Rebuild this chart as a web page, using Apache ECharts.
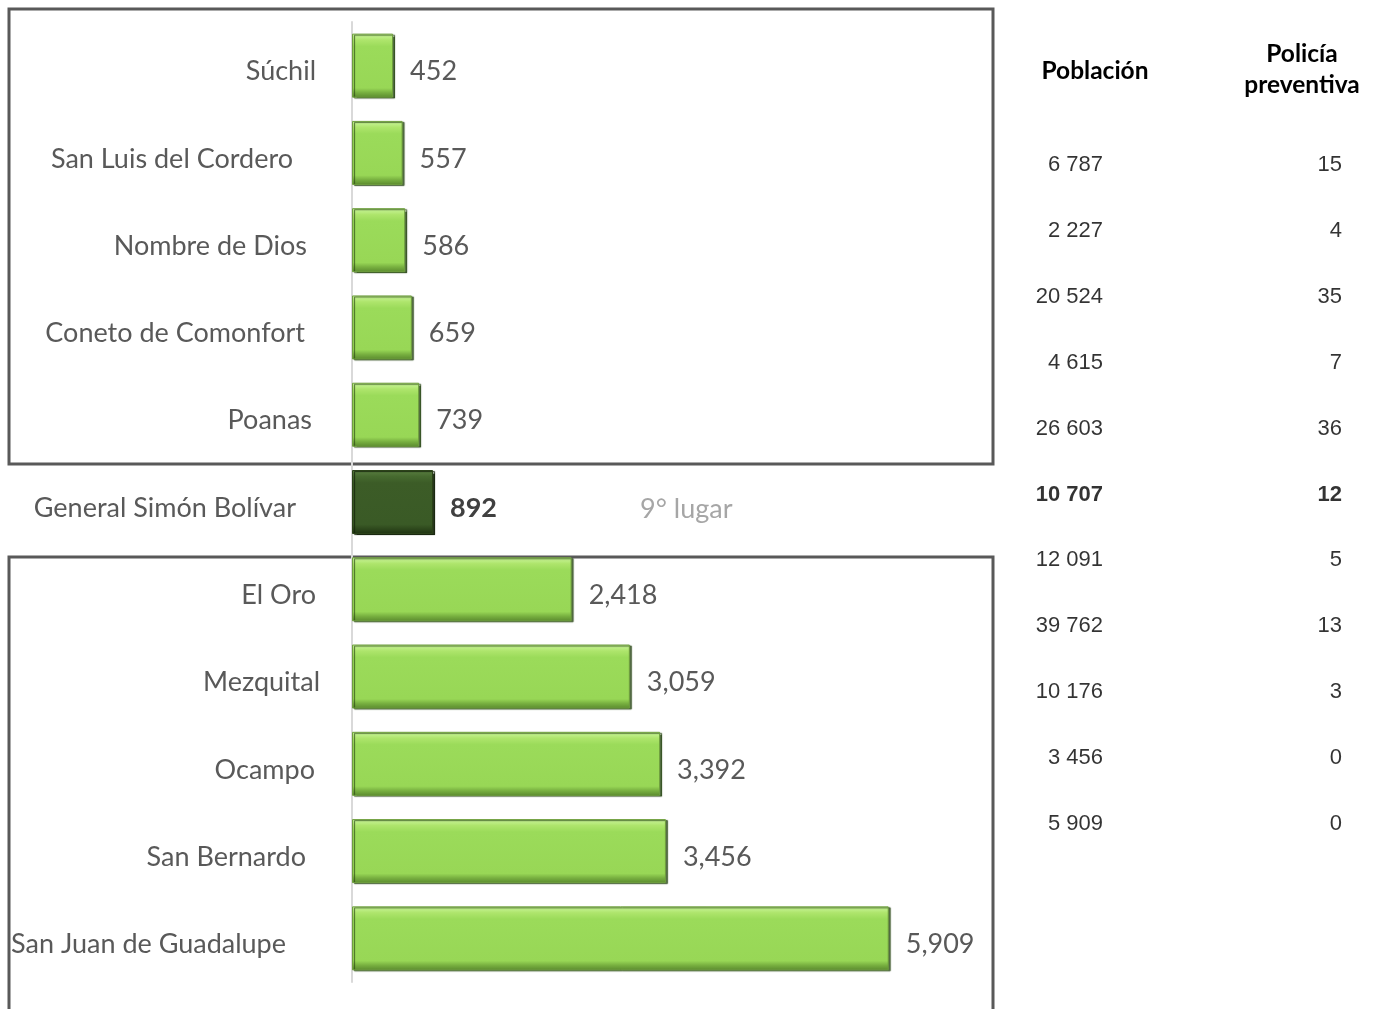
<!DOCTYPE html>
<html>
<head>
<meta charset="utf-8">
<script src="https://cdn.jsdelivr.net/npm/echarts@6/dist/echarts.min.js"></script>
<style>
  html, body { margin: 0; padding: 0; background: #fff; }
  #chart { width: 1377px; height: 1009px; }
</style>
</head>
<body>
<div id="chart"></div>
<script>
  const municipios = ["Súchil", "San Luis del Cordero", "Nombre de Dios", "Coneto de Comonfort", "Poanas",
    "General Simón Bolívar", "El Oro", "Mezquital", "Ocampo", "San Bernardo", "San Juan de Guadalupe"]
  const habitantesPorPolicia = [452, 557, 586, 659, 739, 892, 2418, 3059, 3392, 3456, 5909]
  const poblacion = [6787, 2227, 20524, 4615, 26603, 10707, 12091, 39762, 10176, 3456, 5909]
  const policia = [15, 4, 35, 7, 36, 12, 5, 13, 3, 0, 0]
  const destacado = "General Simón Bolívar"

  // extra right padding so the names sit roughly where the original put them
  const labelShift = [4, 27, 13, 15, 8, 24, 4, 0, 5, 14, 34]

  const font = "Lato, 'Noto Sans', sans-serif"
  const fmtComma = v => String(v).replace(/\B(?=(\d{3})+(?!\d))/g, ",")
  const fmtSpace = v => String(v).replace(/\B(?=(\d{3})+(?!\d))/g, " ")

  const greenBar = {
    color: new echarts.graphic.LinearGradient(0, 0, 0, 1, [
      { offset: 0, color: "#cdf7a0" },
      { offset: 0.1, color: "#aee56c" },
      { offset: 0.2, color: "#9bdb5a" },
      { offset: 0.85, color: "#98d756" },
      { offset: 0.92, color: "#78b040" },
      { offset: 1, color: "#5a8a2e" },
    ]),
    borderColor: "#6f9f3e",
    borderWidth: 1,
    shadowColor: "rgba(40,70,20,0.8)",
    shadowOffsetX: 2,
    shadowOffsetY: 1,
    shadowBlur: 1,
  }
  const darkBar = {
    color: new echarts.graphic.LinearGradient(0, 0, 0, 1, [
      { offset: 0, color: "#5b7f43" },
      { offset: 0.1, color: "#466a2f" },
      { offset: 0.2, color: "#3c5c27" },
      { offset: 0.85, color: "#3a5a26" },
      { offset: 0.93, color: "#2c461b" },
      { offset: 1, color: "#1f3312" },
    ]),
    borderColor: "#2b4219",
    borderWidth: 1,
    shadowColor: "rgba(20,35,10,0.9)",
    shadowOffsetX: 2,
    shadowOffsetY: 1,
    shadowBlur: 1,
  }

  const barData = habitantesPorPolicia.map((v, i) => {
    const hi = municipios[i] === destacado
    return {
      value: v,
      itemStyle: hi ? darkBar : greenBar,
      label: hi ? { fontWeight: "bold", color: "#404040" } : {},
    }
  })

  const options = {
    backgroundColor: "#ffffff",
    animation: false,
    grid: [
      { left: 352, top: 22, height: 960, width: 545 },
      { left: 1103, top: 132, height: 725, width: 239 },
    ],
    xAxis: [
      { gridIndex: 0, type: "value", min: 0, max: 6000, show: false },
      { gridIndex: 1, type: "value", min: 0, max: 1, show: false },
    ],
    yAxis: [
      {
        gridIndex: 0,
        type: "category",
        inverse: true,
        data: municipios.map((m, i) => ({ value: m, textStyle: { padding: [0, labelShift[i], 0, 0] } })),
        axisLine: { lineStyle: { color: "#d9d9d9", width: 2 } },
        axisTick: { show: false },
        axisLabel: {
          margin: 32, fontFamily: font, fontSize: 27, color: "#595959",
          formatter: v => "{n|" + v + "}",
          rich: { n: { fontFamily: font, fontSize: 27, color: "#595959", padding: [12, 0, 0, 0] } },
        },
      },
      {
        gridIndex: 1,
        type: "category",
        inverse: true,
        data: municipios,
        show: false,
      },
    ],
    series: [
      {
        type: "bar",
        xAxisIndex: 0,
        yAxisIndex: 0,
        data: barData,
        barWidth: 64,
        label: {
          show: true,
          position: "right",
          distance: 17,
          offset: [0, 6],
          fontFamily: font,
          fontSize: 27,
          color: "#595959",
          formatter: p => fmtComma(p.value),
        },
      },
      {
        type: "scatter",
        xAxisIndex: 1,
        yAxisIndex: 1,
        symbolSize: 0,
        data: poblacion.map((v, i) => ({
          value: [0, i],
          label: { formatter: fmtSpace(v), fontWeight: municipios[i] === destacado ? "bold" : "normal" },
        })),
        label: { show: true, position: "left", distance: 0, fontFamily: "'Liberation Sans', Arial, sans-serif", fontSize: 22, color: "#000" },
      },
      {
        type: "scatter",
        xAxisIndex: 1,
        yAxisIndex: 1,
        symbolSize: 0,
        data: policia.map((v, i) => ({
          value: [1, i],
          label: { formatter: String(v), fontWeight: municipios[i] === destacado ? "bold" : "normal" },
        })),
        label: { show: true, position: "left", distance: 0, fontFamily: "'Liberation Sans', Arial, sans-serif", fontSize: 22, color: "#000" },
      },
    ],
    graphic: [
      { type: "rect", shape: { x: 9, y: 9, width: 984, height: 455 }, style: { fill: "none", stroke: "#595959", lineWidth: 3 } },
      { type: "rect", shape: { x: 9, y: 557, width: 984, height: 480 }, style: { fill: "none", stroke: "#595959", lineWidth: 3 } },
      { type: "text", x: 640, y: 509, style: { text: "9° lugar", font: "27px " + font, fill: "#a6a6a6", verticalAlign: "middle" } },
      { type: "text", x: 1095, y: 71, style: { text: "Población", font: "bold 24.5px " + font, fill: "#000", align: "center", verticalAlign: "middle" } },
      { type: "text", x: 1302, y: 70, style: { text: "Policía\npreventiva", font: "bold 24.5px " + font, fill: "#000", align: "center", verticalAlign: "middle", lineHeight: 31 } },
    ],
  }

  const myChart = echarts.init(document.getElementById("chart"))
  myChart.setOption(options)
  window.addEventListener("resize", () => myChart.resize(), false)
</script>
</body>
</html>
